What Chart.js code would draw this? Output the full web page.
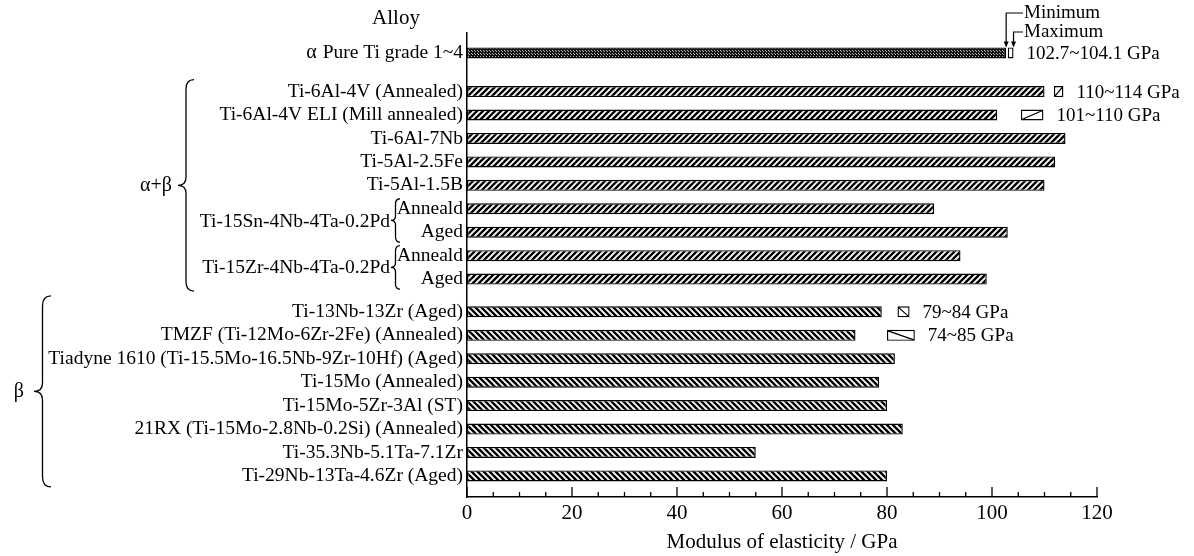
<!DOCTYPE html>
<html>
<head>
<meta charset="utf-8">
<script src="https://cdn.jsdelivr.net/npm/chart.js@4.4.1/dist/chart.umd.min.js"></script>
<style>
  html, body { margin: 0; padding: 0; background: #fff; }
  #wrap { width: 1194px; height: 556px; position: relative; }
</style>
</head>
<body>
<div id="wrap"><canvas id="modulo"></canvas></div>
<script>
// datos
const alloyLabels = [
  'Pure Ti grade 1~4',
  'Ti-6Al-4V (Annealed)',
  'Ti-6Al-4V ELI (Mill annealed)',
  'Ti-6Al-7Nb',
  'Ti-5Al-2.5Fe',
  'Ti-5Al-1.5B',
  'Anneald',
  'Aged',
  'Anneald',
  'Aged',
  'Ti-13Nb-13Zr (Aged)',
  'TMZF (Ti-12Mo-6Zr-2Fe) (Annealed)',
  'Tiadyne 1610 (Ti-15.5Mo-16.5Nb-9Zr-10Hf) (Aged)',
  'Ti-15Mo (Annealed)',
  'Ti-15Mo-5Zr-3Al (ST)',
  '21RX (Ti-15Mo-2.8Nb-0.2Si) (Annealed)',
  'Ti-35.3Nb-5.1Ta-7.1Zr',
  'Ti-29Nb-13Ta-4.6Zr (Aged)'
];
const alloyClass = ['α', 'α+β', 'α+β', 'α+β', 'α+β', 'α+β', 'α+β', 'α+β', 'α+β', 'α+β',
  'β', 'β', 'β', 'β', 'β', 'β', 'β', 'β'];
const modulus = [102.7, 110, 101, 114, 112, 110, 89, 103, 94, 99, 79, 74, 81.5, 78.5, 80, 83, 55, 80];
const subGroups = [
  { name: 'Ti-15Sn-4Nb-4Ta-0.2Pd', rows: [6, 7] },
  { name: 'Ti-15Zr-4Nb-4Ta-0.2Pd', rows: [8, 9] }
];
const rangeRows = [0, 1, 2, 10, 11];
const rangeMin = [102.7, 110, 101, 79, 74];
const rangeMax = [104.1, 114, 110, 84, 85];
const rangeBoxFrom = [103, 111.8, 105.5, 82, 80];
const rangeBoxTo = [104.1, 113.6, 109.8, 84.3, 85.3];
const xMin = 0, xMax = 120, xStep = 20;

const SERIF = '"Liberation Serif", "Times New Roman", serif';
const LABEL_SIZE = 19.5;

// posicion de cada fila (hueco extra entre grupos)
const rowPos = [];
let p = 0;
alloyClass.forEach((c, i) => {
  if (i > 0 && c !== alloyClass[i - 1]) p += (c === 'α+β' ? 0.65 : 0.4);
  rowPos.push(p);
  p += 1;
});

function hatch(dir) {
  const s = 6;
  const c = document.createElement('canvas');
  c.width = s; c.height = s;
  const g = c.getContext('2d');
  g.fillStyle = '#fff';
  g.fillRect(0, 0, s, s);
  g.strokeStyle = '#000';
  g.lineWidth = 2.4;
  g.beginPath();
  if (dir > 0) {
    g.moveTo(0, s); g.lineTo(s, 0);
    g.moveTo(-s / 2, s / 2); g.lineTo(s / 2, -s / 2);
    g.moveTo(s / 2, 1.5 * s); g.lineTo(1.5 * s, s / 2);
  } else {
    g.moveTo(0, 0); g.lineTo(s, s);
    g.moveTo(-s / 2, s / 2); g.lineTo(s / 2, 1.5 * s);
    g.moveTo(s / 2, -s / 2); g.lineTo(1.5 * s, s / 2);
  }
  g.stroke();
  return g.createPattern(c, 'repeat');
}

function dots() {
  const c = document.createElement('canvas');
  c.width = 3; c.height = 3;
  const g = c.getContext('2d');
  g.fillStyle = '#111';
  g.fillRect(0, 0, 3, 3);
  g.fillStyle = '#bbb';
  g.fillRect(1, 0, 1, 1);
  g.fillRect(0, 2, 1, 1);
  return g.createPattern(c, 'repeat');
}

const patterns = { 'α': dots(), 'α+β': hatch(1), 'β': hatch(-1) };

function brace(ctx, x, y1, y2, w) {
  const ym = (y1 + y2) / 2;
  const xs = x - w / 2;
  ctx.beginPath();
  ctx.moveTo(x, y1);
  ctx.quadraticCurveTo(xs, y1, xs, y1 + w * 0.6);
  ctx.lineTo(xs, ym - w * 0.5);
  ctx.quadraticCurveTo(xs, ym, x - w, ym);
  ctx.quadraticCurveTo(xs, ym, xs, ym + w * 0.5);
  ctx.lineTo(xs, y2 - w * 0.6);
  ctx.quadraticCurveTo(xs, y2, x, y2);
  ctx.stroke();
}

function arrowDown(ctx, x, y1, y2, xText) {
  ctx.beginPath();
  ctx.moveTo(xText, y1);
  ctx.lineTo(x, y1);
  ctx.lineTo(x, y2 - 5);
  ctx.stroke();
  ctx.beginPath();
  ctx.moveTo(x - 2.5, y2 - 6);
  ctx.lineTo(x + 2.5, y2 - 6);
  ctx.lineTo(x, y2);
  ctx.closePath();
  ctx.fill();
}

const extras = {
  id: 'extras',
  afterDraw(chart) {
    const ctx = chart.ctx;
    const xs = chart.scales.x, ys = chart.scales.y;
    const bottom = chart.chartArea.bottom;
    ctx.save();
    ctx.strokeStyle = '#000';
    ctx.fillStyle = '#000';

    // marcas del eje x hacia dentro
    ctx.lineWidth = 1.3;
    for (let v = xMin; v <= xMax; v += 5) {
      const px = xs.getPixelForValue(v);
      const len = v % 20 === 0 ? 10 : 5;
      ctx.beginPath();
      ctx.moveTo(px, bottom);
      ctx.lineTo(px, bottom - len);
      ctx.stroke();
    }

    // diagonal dentro de las cajas de rango
    const meta = chart.getDatasetMeta(1);
    meta.data.forEach((el, k) => {
      const cls = alloyClass[rangeRows[k]];
      if (cls === 'α') return;
      const { x, base, y, height } = el.getProps(['x', 'base', 'y', 'height'], true);
      const l = Math.min(x, base) + 1, r = Math.max(x, base) - 1;
      const t = y - height / 2 + 1, b = y + height / 2 - 1;
      ctx.lineWidth = 1.3;
      ctx.beginPath();
      if (cls === 'α+β') { ctx.moveTo(l, b); ctx.lineTo(r, t); }
      else { ctx.moveTo(l, t); ctx.lineTo(r, b); }
      ctx.stroke();
    });

    ctx.textBaseline = 'middle';
    ctx.font = '19px ' + SERIF;
    ctx.textAlign = 'left';
    rangeRows.forEach((r, k) => {
      const px = xs.getPixelForValue(rangeBoxTo[k]) + 13;
      ctx.fillText(rangeMin[k] + '~' + rangeMax[k] + ' GPa', px, ys.getPixelForValue(rowPos[r]) + 1);
    });

    // Minimum / Maximum
    const barTop = ys.getPixelForValue(rowPos[0]) - 5.5;
    ctx.lineWidth = 1.2;
    arrowDown(ctx, xs.getPixelForValue(modulus[0]), 13, barTop, 1023);
    arrowDown(ctx, xs.getPixelForValue(rangeMax[0]), 32, barTop, 1023);
    ctx.fillText('Minimum', 1024, 13);
    ctx.fillText('Maximum', 1024, 32);

    // titulo de la columna
    ctx.font = '21px ' + SERIF;
    ctx.textAlign = 'center';
    ctx.fillText('Alloy', 396, 18);

    // clases
    ctx.font = LABEL_SIZE + 'px ' + SERIF;
    const wPure = ctx.measureText(alloyLabels[0]).width;
    ctx.font = '20px ' + SERIF;
    ctx.textAlign = 'right';
    ctx.fillText('α', 463 - wPure - 6, ys.getPixelForValue(rowPos[0]));
    const abRows = rowPos.filter((v, i) => alloyClass[i] === 'α+β');
    const bRows = rowPos.filter((v, i) => alloyClass[i] === 'β');
    const abTop = ys.getPixelForValue(abRows[0]) - 12;
    const abBot = ys.getPixelForValue(abRows[abRows.length - 1]) + 12;
    const bTop = ys.getPixelForValue(bRows[0]) - 16;
    const bBot = ys.getPixelForValue(bRows[bRows.length - 1]) + 11;
    ctx.fillText('α+β', 172, (abTop + abBot) / 2);
    ctx.fillText('β', 24, (bTop + bBot) / 2);
    ctx.lineWidth = 1.3;
    brace(ctx, 194, abTop, abBot, 16);
    brace(ctx, 51, bTop, bBot, 17);

    // subgrupos con llave pequena
    ctx.font = LABEL_SIZE + 'px ' + SERIF;
    subGroups.forEach(sg => {
      const y1 = ys.getPixelForValue(rowPos[sg.rows[0]]);
      const y2 = ys.getPixelForValue(rowPos[sg.rows[1]]);
      ctx.fillText(sg.name, 390, (y1 + y2) / 2 + 1);
      brace(ctx, 400, y1 - 10, y2 + 10, 9);
    });
    ctx.restore();
  }
};

const ctx = document.getElementById('modulo').getContext('2d');
new Chart(ctx, {
  type: 'bar',
  data: {
    datasets: [{
      data: modulus.map((v, i) => ({ x: v, y: rowPos[i] })),
      backgroundColor: c => patterns[alloyClass[c.dataIndex]],
      borderColor: '#000',
      borderWidth: 1.4,
      borderSkipped: false,
      grouped: false,
      maxBarThickness: 11
    }, {
      data: rangeRows.map((r, k) => ({ x: [rangeBoxFrom[k], rangeBoxTo[k]], y: rowPos[r] })),
      backgroundColor: '#fff',
      borderColor: '#000',
      borderWidth: 1.4,
      borderSkipped: false,
      grouped: false,
      maxBarThickness: 11
    }]
  },
  options: {
    indexAxis: 'y',
    responsive: true,
    maintainAspectRatio: false,
    animation: false,
    layout: { padding: { top: 33, right: 97, left: 0, bottom: 0 } },
    plugins: { legend: { display: false }, tooltip: { enabled: false } },
    scales: {
      x: {
        type: 'linear',
        min: xMin,
        max: xMax,
        afterFit: s => { s.height = 59; },
        grid: { display: false, drawTicks: false },
        border: { display: true, color: '#000', width: 1.5 },
        ticks: { stepSize: xStep, color: '#000', padding: 4, font: { family: SERIF, size: 21 } },
        title: {
          display: true,
          text: 'Modulus of elasticity / GPa',
          color: '#000',
          padding: { top: 0, bottom: 1 },
          font: { family: SERIF, size: 21 }
        }
      },
      y: {
        type: 'linear',
        reverse: true,
        offset: false,
        min: -0.85,
        max: 18.95,
        afterFit: s => { s.width = 467; },
        afterBuildTicks: s => { s.ticks = rowPos.map(v => ({ value: v })); },
        grid: { display: false, drawTicks: false, offset: false },
        border: { display: true, color: '#000', width: 1.5 },
        ticks: {
          autoSkip: false,
          color: '#000',
          padding: 4,
          font: { family: SERIF, size: LABEL_SIZE },
          callback: (v, i) => alloyLabels[i]
        }
      }
    }
  },
  plugins: [extras]
});
</script>
</body>
</html>
